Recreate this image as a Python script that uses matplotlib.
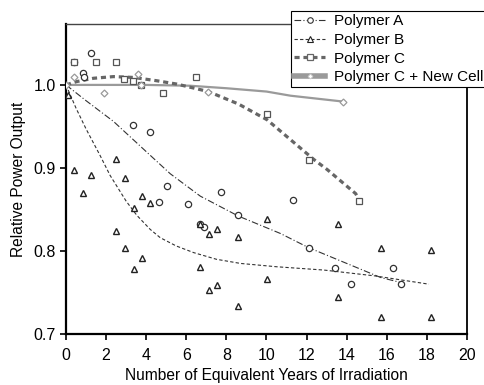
import matplotlib
matplotlib.use("Agg")
import matplotlib.pyplot as plt
from matplotlib.lines import Line2D

plt.rcParams['font.family'] = ['Liberation Sans', 'DejaVu Sans']

# Datos medidos (puntos dispersos)
a_x = [0.4, 0.85, 0.9, 1.27, 3.35, 4.18, 4.62, 5.02, 6.07, 6.67, 6.9, 7.73, 8.57,
       11.3, 12.13, 13.4, 14.23, 16.3, 16.73]
a_y = [1.028, 1.014, 1.009, 1.039, 0.952, 0.943, 0.859, 0.878, 0.857, 0.832, 0.829,
       0.871, 0.843, 0.861, 0.804, 0.780, 0.760, 0.780, 0.760]

b_x = [0.1, 0.42, 0.83, 1.25, 2.5, 2.93, 3.77, 4.2, 3.37, 2.5, 2.93, 3.78, 3.37,
       6.7, 7.12, 7.53, 8.57, 6.7, 7.12, 7.53, 8.57, 10.03, 13.58, 15.7, 18.2,
       10.03, 13.58, 15.7, 18.2]
b_y = [0.988, 0.898, 0.870, 0.891, 0.911, 0.888, 0.866, 0.858, 0.852, 0.824, 0.804,
       0.791, 0.778, 0.833, 0.821, 0.826, 0.817, 0.781, 0.753, 0.759, 0.734, 0.839,
       0.833, 0.804, 0.801, 0.766, 0.744, 0.721, 0.721]

c_x = [0.4, 1.5, 2.5, 2.9, 3.35, 3.75, 4.82, 6.48, 10.03, 12.1, 14.6]
c_y = [1.028, 1.027, 1.027, 1.007, 1.005, 1.0, 0.990, 1.010, 0.965, 0.910, 0.860]

n_x = [0.0, 0.4, 1.88, 3.6, 3.75, 7.1, 13.8]
n_y = [1.0, 1.010, 0.990, 1.013, 1.0, 0.992, 0.980]

# Curvas de tendencia
ta_x = [0, 1.0, 2.37, 4.03, 5.2, 6.7, 8.6, 10.7, 12.1, 14.0, 15.7, 16.7]
ta_y = [1.0, 0.981, 0.956, 0.919, 0.893, 0.866, 0.842, 0.821, 0.804, 0.785, 0.768, 0.762]

tb_x = [0, 0.5, 1.0, 1.7, 2.2, 3.0, 3.53, 4.2, 4.7, 5.5, 6.37, 7.5, 8.7, 10.5, 12.87, 15.4, 18.1]
tb_y = [1.0, 0.972, 0.947, 0.915, 0.891, 0.860, 0.843, 0.826, 0.816, 0.806, 0.798,
        0.790, 0.785, 0.781, 0.777, 0.770, 0.760]

tc_x = [0, 0.53, 1.37, 2.37, 3.37, 4.53, 5.53, 7.1, 8.6, 10.03, 11.2, 12.37, 13.03, 14.45, 14.6]
tc_y = [1.0, 1.004, 1.008, 1.010, 1.009, 1.005, 1.001, 0.992, 0.977, 0.958, 0.934,
        0.910, 0.898, 0.869, 0.862]

tn_x = [0, 2, 4, 6.2, 8, 10, 11.2, 13.8]
tn_y = [1.0, 1.0, 1.0, 0.999, 0.996, 0.992, 0.987, 0.980]

labels = ['Polymer A', 'Polymer B', 'Polymer C', 'Polymer C + New Cell']

fig = plt.figure(figsize=(4.85, 3.85), dpi=100)
ax = fig.add_axes([66 / 485, 1 - 334 / 385, (467 - 66) / 485, (334 - 24.3) / 385])

# Líneas de tendencia
ax.plot(tn_x, tn_y, color='#9a9a9a', lw=1.6, zorder=2)
ax.plot(tc_x, tc_y, color='#666666', lw=2.3, ls=(0, (1.6, 1.2)), zorder=3)
ax.plot(ta_x, ta_y, color='#333333', lw=0.8, ls=(0, (6, 2, 1, 2)), zorder=3)
ax.plot(tb_x, tb_y, color='#333333', lw=0.8, ls=(0, (3, 2)), zorder=3)

# Puntos
ax.plot(a_x, a_y, ls='none', marker='o', ms=4.5, mfc='white', mec='#333333', mew=0.9, zorder=4)
ax.plot(b_x, b_y, ls='none', marker='^', ms=4.2, mfc='white', mec='#222222', mew=1.0, zorder=4)
ax.plot(c_x, c_y, ls='none', marker='s', ms=5, mfc='white', mec='#555555', mew=0.9, zorder=4)
ax.plot(n_x, n_y, ls='none', marker='D', ms=3.5, mfc='white', mec='#999999', mew=0.9, zorder=4)

ax.set_xlim(0, 20)
ax.set_ylim(0.7, 1.073)
ax.set_xticks(range(0, 21, 2))
ax.set_yticks([0.7, 0.8, 0.9, 1.0])
ax.set_yticklabels(['0.7', '0.8', '0.9', '1.0'])
ax.tick_params(direction='out', length=4, width=1.2, labelsize=11.5, colors='black')
ax.tick_params(axis='x', pad=6)
ax.tick_params(axis='y', pad=3.5)
ax.spines['left'].set_linewidth(1.6)
ax.spines['bottom'].set_linewidth(1.6)
ax.spines['right'].set_linewidth(1.3)
ax.spines['top'].set_linewidth(1.0)
ax.spines['top'].set_color('#444444')
ax.set_xlabel('Number of Equivalent Years of Irradiation', fontsize=11.2, labelpad=4)
ax.set_ylabel('Relative Power Output', fontsize=11.2, labelpad=5)

handles = [
    Line2D([], [], color='#333333', lw=0.8, ls=(0, (6, 2, 1, 2)), marker='o', ms=4,
           mfc='white', mec='#333333', mew=0.8),
    Line2D([], [], color='#333333', lw=0.8, ls=(0, (3, 2)), marker='^', ms=4,
           mfc='white', mec='#222222', mew=0.8),
    Line2D([], [], color='#666666', lw=2.3, ls=(0, (1.6, 1.2)), marker='s', ms=5,
           mfc='white', mec='#666666', mew=0.9),
    Line2D([], [], color='#9a9a9a', lw=4, marker='D', ms=2.5,
           mfc='white', mec='#cccccc', mew=0.6),
]
leg = fig.legend(handles, labels, loc='upper left', bbox_to_anchor=(291 / 485, 1 - 11 / 385),
                 fontsize=11, frameon=True, fancybox=False, framealpha=1,
                 edgecolor='black', handlelength=2.0, labelspacing=0.3,
                 borderpad=0.22, handletextpad=0.6, borderaxespad=0)
leg.get_frame().set_linewidth(0.8)

fig.savefig('out.png', dpi=100)
